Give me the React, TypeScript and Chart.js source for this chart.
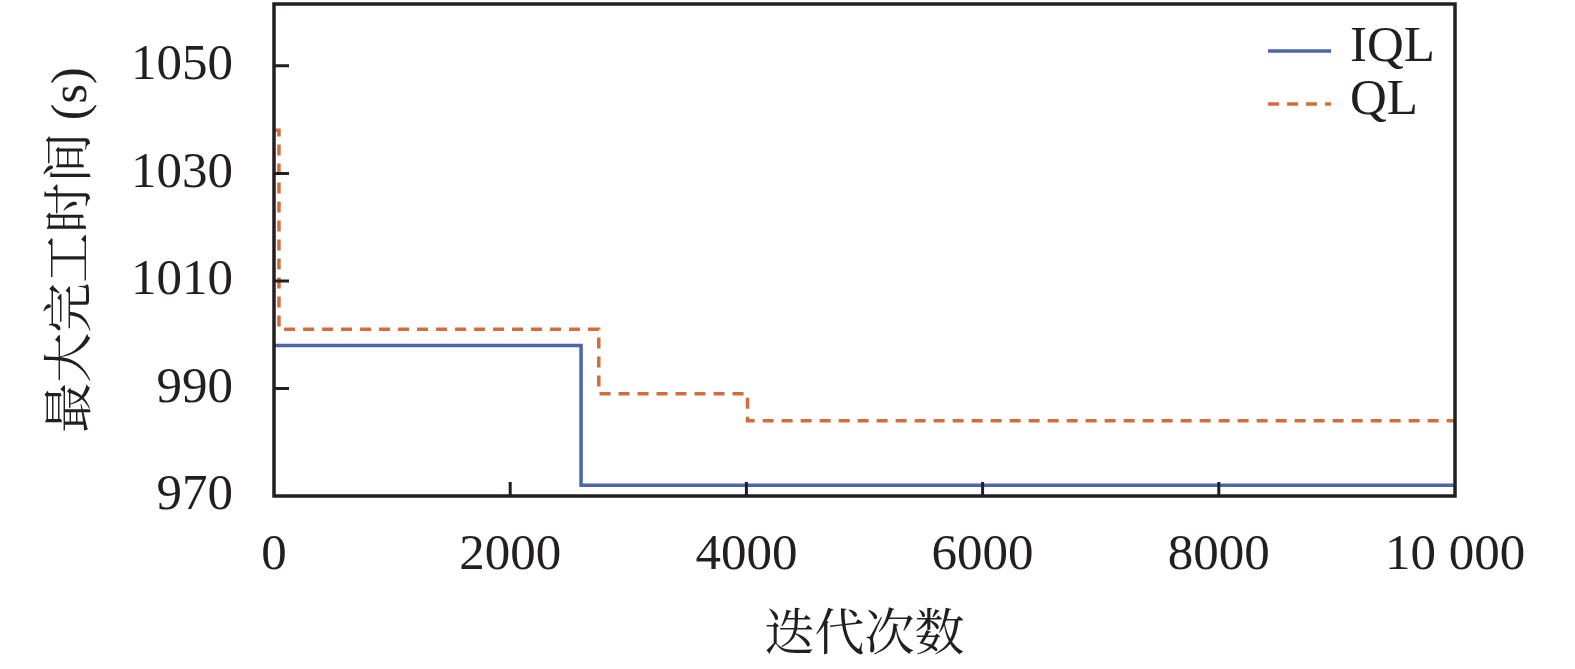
import { useEffect, useRef } from 'react';
import { Chart, registerables } from 'chart.js';

Chart.register(...registerables);

const SERIES_NAMES = ['IQL', 'QL'];
const ITERATIONS_IQL = [0, 2600, 10000];
const MAKESPAN_IQL = [998, 972, 972];
const ITERATIONS_QL = [0, 42, 2750, 4010, 10000];
const MAKESPAN_QL = [1038, 1001, 989, 984, 984];
const X_TICKS = [0, 2000, 4000, 6000, 8000, 10000];
const X_TICK_LABELS = ['0', '2000', '4000', '6000', '8000', '10 000'];
const Y_TICKS = [970, 990, 1010, 1030, 1050];
const Y_TICK_LABELS = ['970', '990', '1010', '1030', '1050'];
const X_TITLE = '迭代次数';
const Y_TITLE = '最大完工时间 (s)';

const FONT = "'Liberation Serif', 'Noto Serif CJK SC', 'Noto Sans CJK SC', serif";
const INK = '#231f20';
const BLUE = '#4c66ab';
const ORANGE = '#d46d3c';

const framePlugin = {
  id: 'frameAndLegend',
  afterDatasetsDraw(chart: any) {
    const { ctx, chartArea, scales } = chart;
    const { left, right, top, bottom } = chartArea;
    const xs = scales.x;
    const ys = scales.y;
    ctx.save();
    ctx.strokeStyle = INK;
    ctx.lineWidth = 3.5;
    ctx.setLineDash([]);
    ctx.strokeRect(left, top, right - left, bottom - top);
    ctx.beginPath();
    ctx.lineWidth = 3;
    xs.ticks.forEach((t: any) => {
      const px = xs.getPixelForValue(t.value);
      if (px > left + 3 && px < right - 3) {
        ctx.moveTo(px, bottom);
        ctx.lineTo(px, bottom - 14);
      }
    });
    ys.ticks.forEach((t: any) => {
      const py = ys.getPixelForValue(t.value);
      if (py > top + 3 && py < bottom - 3) {
        ctx.moveTo(left, py);
        ctx.lineTo(left + 15, py);
      }
    });
    ctx.stroke();

    // legend
    const lx0 = right - 187;
    const lx1 = right - 124;
    const rows = [top + 47, top + 100];
    chart.data.datasets.forEach((ds: any, i: number) => {
      const yy = rows[i];
      ctx.beginPath();
      ctx.strokeStyle = ds.borderColor;
      ctx.lineWidth = ds.borderWidth;
      ctx.setLineDash(ds.borderDash || []);
      ctx.moveTo(lx0, yy);
      ctx.lineTo(lx1, yy);
      ctx.stroke();
      ctx.setLineDash([]);
      ctx.fillStyle = INK;
      ctx.font = `51px ${FONT}`;
      ctx.textBaseline = 'middle';
      ctx.textAlign = 'left';
      ctx.fillText(ds.label, right - 105, yy - 3);
    });
    ctx.restore();
  },
};

export default function App() {
  const ref = useRef<HTMLCanvasElement | null>(null);

  useEffect(() => {
    if (!ref.current) return;
    const chart = new Chart(ref.current, {
      type: 'line',
      data: {
        datasets: [
          {
            label: SERIES_NAMES[0],
            data: ITERATIONS_IQL.map((x, i) => ({ x, y: MAKESPAN_IQL[i] })),
            borderColor: BLUE,
            borderWidth: 3.5,
            stepped: true,
            pointRadius: 0,
            fill: false,
          },
          {
            label: SERIES_NAMES[1],
            data: ITERATIONS_QL.map((x, i) => ({ x, y: MAKESPAN_QL[i] })),
            borderColor: ORANGE,
            borderWidth: 3.5,
            borderDash: [11, 8],
            stepped: true,
            pointRadius: 0,
            fill: false,
          },
        ],
      },
      options: {
        animation: false,
        responsive: false,
        devicePixelRatio: 1,
        layout: { padding: { left: 0, top: 4, right: 120, bottom: 0 }, autoPadding: false },
        plugins: {
          legend: { display: false },
          tooltip: { enabled: false },
        },
        scales: {
          x: {
            type: 'linear',
            min: 0,
            max: 10000,
            afterBuildTicks: (s: any) => {
              s.ticks = X_TICKS.map((v) => ({ value: v }));
            },
            afterFit: (s: any) => {
              s.height = 173;
              s.paddingLeft = 0;
              s.paddingRight = 0;
            },
            grid: { display: false, drawTicks: false },
            border: { display: false },
            ticks: {
              padding: 29,
              color: INK,
              font: { family: FONT, size: 51, lineHeight: 1.2 },
              maxRotation: 0,
              autoSkip: false,
              callback: (v: any) => {
                const i = X_TICKS.indexOf(Number(v));
                return i >= 0 ? X_TICK_LABELS[i] : '';
              },
            },
            title: {
              display: true,
              text: X_TITLE,
              color: INK,
              font: { family: FONT, size: 50, lineHeight: 1.2 },
              padding: { top: 0, bottom: 2 },
            },
          },
          y: {
            type: 'linear',
            min: 970,
            max: 1061.5,
            afterBuildTicks: (s: any) => {
              s.ticks = Y_TICKS.map((v) => ({ value: v }));
            },
            afterFit: (s: any) => {
              s.width = 274;
              s.paddingTop = 0;
              s.paddingBottom = 0;
            },
            grid: { display: false, drawTicks: false },
            border: { display: false },
            ticks: {
              padding: 41,
              color: INK,
              font: { family: FONT, size: 51, lineHeight: 1.2 },
              autoSkip: false,
              callback: (v: any) => {
                const i = Y_TICKS.indexOf(Number(v));
                return i >= 0 ? Y_TICK_LABELS[i] : '';
              },
            },
            title: {
              display: true,
              text: Y_TITLE,
              color: INK,
              font: { family: FONT, size: 50, lineHeight: 1.2 },
              padding: { top: 43, bottom: 0 },
            },
          },
        },
      },
      plugins: [framePlugin],
    } as any);
    return () => chart.destroy();
  }, []);

  return (
    <div style={{ position: 'fixed', left: 0, top: 0, width: 1575, height: 669, background: '#fff' }}>
      <canvas ref={ref} width={1575} height={669} style={{ display: 'block' }} />
    </div>
  );
}
